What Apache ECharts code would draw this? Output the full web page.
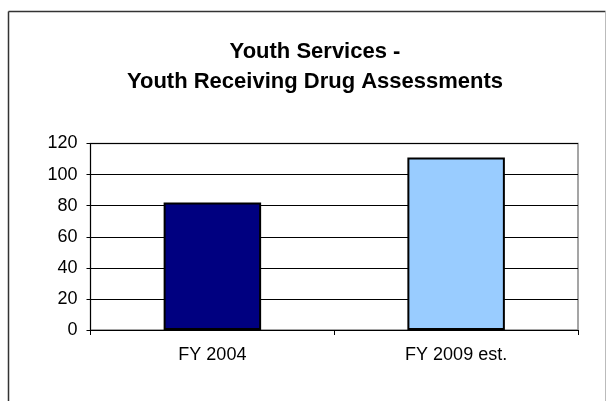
<!DOCTYPE html>
<html>
<head>
<meta charset="utf-8">
<script src="https://cdn.jsdelivr.net/npm/echarts@6/dist/echarts.min.js"></script>
<style>
html,body{margin:0;padding:0;background:#fff;}
#c{width:609px;height:401px;}
</style>
</head>
<body>
<div id="c"></div>
<script>
var titleLines = ['Youth Services -', 'Youth Receiving Drug Assessments'];
var categories = ['FY 2004', 'FY 2009 est.'];
var values = [82, 111];
var barColors = ['#000080', '#99CCFF'];
var yTicks = {min: 0, max: 120, interval: 20};

var chart = echarts.init(document.getElementById('c'), null, {renderer: 'canvas'});
var FONT = '"Liberation Sans", Arial, sans-serif';
chart.setOption({
  backgroundColor: '#fff',
  animation: false,
  graphic: [{
    type: 'line',
    shape: {x1: 8.5, y1: 11.5, x2: 605.5, y2: 11.5},
    style: {stroke: '#333', lineWidth: 1.5}
  }, {
    type: 'line',
    shape: {x1: 8.5, y1: 11.5, x2: 8.5, y2: 401},
    style: {stroke: '#333', lineWidth: 1.5}
  }, {
    type: 'line',
    shape: {x1: 605.5, y1: 11.5, x2: 605.5, y2: 401},
    style: {stroke: '#bbb', lineWidth: 1}
  }],
  title: {
    text: titleLines.join('\n'),
    left: 310,
    textAlign: 'center',
    top: 32,
    textStyle: {fontFamily: FONT, fontSize: 22, fontWeight: 'bold', color: '#000', lineHeight: 30}
  },
  grid: {
    left: 90.5, top: 143.5, right: 31, bottom: 71,
    show: true, borderColor: '#888', borderWidth: 1.5, backgroundColor: '#fff'
  },
  xAxis: {
    type: 'category',
    data: categories,
    axisLine: {lineStyle: {color: '#000', width: 1}},
    axisTick: {show: true, length: 5, lineStyle: {color: '#000'}},
    axisLabel: {fontFamily: FONT, fontSize: 18, color: '#000', margin: 16}
  },
  yAxis: {
    type: 'value',
    min: yTicks.min, max: yTicks.max, interval: yTicks.interval,
    axisLine: {show: true, lineStyle: {color: '#000', width: 1}},
    axisTick: {show: true, length: 4, lineStyle: {color: '#000'}},
    splitLine: {show: true, lineStyle: {color: '#000', width: 1}},
    axisLabel: {fontFamily: FONT, fontSize: 18, color: '#000', margin: 13}
  },
  series: [{
    type: 'bar',
    barWidth: '40%',
    data: values.map(function (v, i) {
      return {value: v, itemStyle: {color: barColors[i]}};
    }),
    itemStyle: {borderColor: '#000', borderWidth: 2}
  }]
});
</script>
</body>
</html>
